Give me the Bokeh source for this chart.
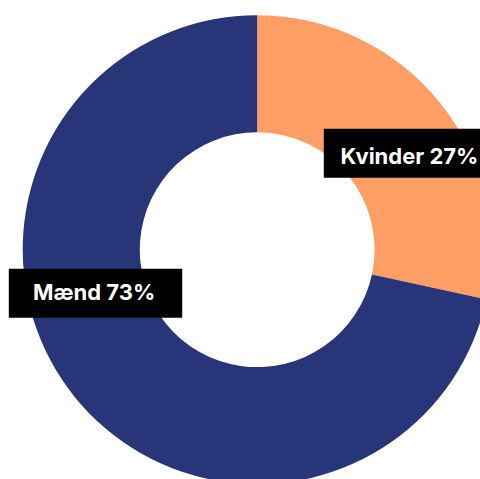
import math
from bokeh.plotting import figure
from bokeh.models import Range1d, BoxAnnotation, Label
from bokeh.embed import file_html
from bokeh.resources import INLINE

# Data
categories = ["Kvinder", "Mænd"]
shares = [28.4, 71.6]          # slice sizes
label_texts = ["Kvinder 27%", "Mænd 73%"]
colors = ["#FF9F66", "#283679"]

W, H = 480, 479
p = figure(width=W, height=H, output_backend="svg", toolbar_location=None,
           x_range=Range1d(0, W), y_range=Range1d(0, H), min_border=0)
p.axis.visible = False
p.grid.visible = False
p.outline_line_color = None
p.background_fill_color = "white"
p.border_fill_color = "white"

cx, cy = 256.7, H - 249.2
r_in, r_out = 117.4, 234.5

total = sum(shares)
cum = 0.0
starts, ends = [], []
for s in shares:
    a0 = math.pi / 2 - 2 * math.pi * (cum + s) / total
    a1 = math.pi / 2 - 2 * math.pi * cum / total
    starts.append(a0)
    ends.append(a1)
    cum += s

p.annular_wedge(x=[cx] * len(shares), y=[cy] * len(shares), inner_radius=r_in, outer_radius=r_out,
                start_angle=starts, end_angle=ends, fill_color=colors, line_color=None)

# Label boxes (screen-pixel geometry mapped to data, y up)
boxes = [(323.3, 500, 128.3, 177.3), (8.3, 181.7, 268.3, 317.3)]
text_pos = [(340, 155.3), (32.5, 291.7)]
for (l, r, t, b), (tx, ty), txt in zip(boxes, text_pos, label_texts):
    p.add_layout(BoxAnnotation(left=l, right=r, top=H - t, bottom=H - b,
                               fill_color="black", fill_alpha=1.0, line_color=None))
    p.add_layout(Label(x=tx, y=H - ty, text=txt, text_color="white",
                       text_font="Inter", text_font_style="bold", text_font_size="22px",
                       text_baseline="middle", text_align="left"))

open("out.html", "w").write(file_html(p, INLINE))
